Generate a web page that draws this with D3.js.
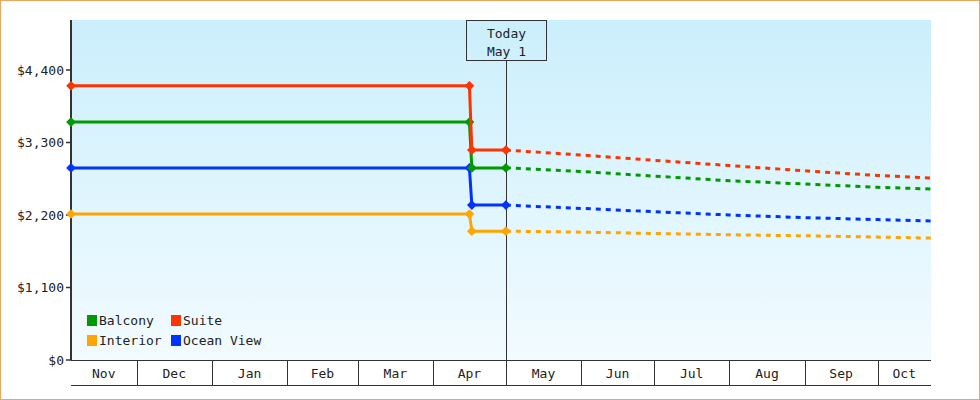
<!DOCTYPE html>
<html><head><meta charset="utf-8">
<script src="https://cdn.jsdelivr.net/npm/d3@7"></script>
<style>body{margin:0;background:#fff}svg{display:block}text{font-family:"DejaVu Sans Mono",monospace;font-size:13px;fill:#222}</style>
</head><body>
<svg id="c" width="980" height="400"></svg>
<script>
const seriesNames = ["Balcony","Suite","Interior","Ocean View"];
const colors = ["#009900","#ff3300","#ffa500","#0033ff"];
const histDates = ["2023-11-04","2024-04-16","2024-04-17","2024-05-01"];
const histBalcony = [3610,3610,2915,2915];
const histSuite = [4160,4160,3185,3185];
const histInterior = [2215,2215,1955,1955];
const histOcean = [2915,2915,2350,2350];
const foreDates = ["2024-05-01","2024-06-01","2024-07-01","2024-08-01","2024-09-01","2024-10-01","2024-10-23"];
const foreBalcony = [2915,2860,2790,2720,2670,2620,2595];
const foreSuite = [3185,3110,3030,2950,2870,2800,2760];
const foreInterior = [1955,1940,1920,1900,1885,1865,1850];
const foreOcean = [2350,2300,2250,2200,2160,2130,2110];
const monthLabels = ["Nov","Dec","Jan","Feb","Mar","Apr","May","Jun","Jul","Aug","Sep","Oct"];
const yTicks = [0,1100,2200,3300,4400];

const P = d3.timeParse("%Y-%m-%d");
const svg = d3.select("#c");
const L=71,R=931,T=20,B=360;
const x = d3.scaleTime().domain([P("2023-11-04"),P("2024-10-23")]).range([L,R]);
const y = d3.scaleLinear().domain([0,4400*340/290]).range([B,T]);

svg.append("rect").attr("x",0.5).attr("y",0.5).attr("width",979).attr("height",399).attr("fill","#fff").attr("stroke","#e8a860");
const g = svg.append("defs").append("linearGradient").attr("id","bg").attr("x1",0).attr("x2",0).attr("y1",0).attr("y2",1);
g.append("stop").attr("offset","0").attr("stop-color","#cbeffc");
g.append("stop").attr("offset","1").attr("stop-color","#f2fbff");
svg.append("rect").attr("x",L).attr("y",T).attr("width",R-L).attr("height",B-T).attr("fill","url(#bg)");

// y axis
yTicks.forEach(v=>{
  svg.append("line").attr("x1",L-5).attr("x2",L).attr("y1",y(v)).attr("y2",y(v)).attr("stroke","#333").attr("stroke-width",1.5);
  svg.append("text").attr("x",L-7).attr("y",y(v)).attr("dy","0.35em").attr("text-anchor","end").attr("fill","#333").text(d3.format("$,")(v));
});
svg.append("line").attr("x1",L).attr("x2",L).attr("y1",T).attr("y2",B).attr("stroke","#333").attr("stroke-width",2);
svg.append("line").attr("x1",L).attr("x2",R).attr("y1",B+0.5).attr("y2",B+0.5).attr("stroke","#333");
svg.append("line").attr("x1",L).attr("x2",R).attr("y1",385.5).attr("y2",385.5).attr("stroke","#333");
// month cells
const bounds=[x.domain()[0]];
for(let i=1;i<12;i++) bounds.push(new Date(i<=1?2023:2024,(10+i)%12,1));
bounds.push(x.domain()[1]);
monthLabels.forEach((m,i)=>{
  const a=x(bounds[i]),b=x(bounds[i+1]);
  if(i>0) svg.append("line").attr("x1",Math.round(a)+0.5).attr("x2",Math.round(a)+0.5).attr("y1",B).attr("y2",385).attr("stroke","#333");
  svg.append("text").attr("x",(a+b)/2).attr("y",373).attr("dy","0.35em").attr("text-anchor","middle").text(m);
});

// today line & box
const tx=Math.round(x(P("2024-05-01")))+0.5;
svg.append("line").attr("x1",tx).attr("x2",tx).attr("y1",60).attr("y2",B).attr("stroke","#333");
svg.append("rect").attr("x",tx-40).attr("y",20.5).attr("width",80).attr("height",40).attr("fill","none").attr("stroke","#333");
svg.append("text").attr("x",tx).attr("y",33).attr("dy","0.35em").attr("text-anchor","middle").text("Today");
svg.append("text").attr("x",tx).attr("y",51).attr("dy","0.35em").attr("text-anchor","middle").text("May 1");

const hist=[histBalcony,histSuite,histInterior,histOcean];
const fore=[foreBalcony,foreSuite,foreInterior,foreOcean];
const line=d3.line().x(d=>x(d[0])).y(d=>y(d[1]));
const order=[2,3,0,1];
order.forEach(i=>{
  const fd=foreDates.map((d,j)=>[P(d),fore[i][j]]);
  svg.append("path").attr("d",line(fd)).attr("fill","none").attr("stroke",colors[i]).attr("stroke-width",3).attr("stroke-dasharray","5,5");
});
order.forEach(i=>{
  const hd=histDates.map((d,j)=>[P(d),hist[i][j]]);
  svg.append("path").attr("d",line(hd)).attr("fill","none").attr("stroke",colors[i]).attr("stroke-width",3);
  hd.forEach(p=>svg.append("path").attr("d",d3.symbol(d3.symbolDiamond2,60)()).attr("transform",`translate(${x(p[0])},${y(p[1])})`).attr("fill",colors[i]));
});

// legend
seriesNames.forEach((n,i)=>{
  const lx=i%2===0?87:171, ly=i<2?315:335;
  svg.append("rect").attr("x",lx).attr("y",ly).attr("width",10).attr("height",11).attr("fill",colors[i]);
  svg.append("text").attr("x",lx+12).attr("y",ly+5.5).attr("dy","0.35em").text(n);
});
</script>
</body></html>
